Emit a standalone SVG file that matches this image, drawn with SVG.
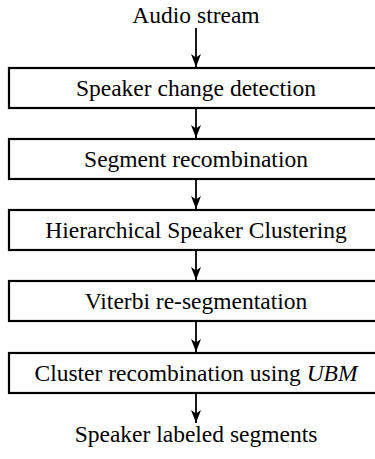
<svg xmlns="http://www.w3.org/2000/svg" width="375" height="459" viewBox="0 0 375 459">
<style>
.box{fill:#fff;stroke:#000;stroke-width:2.2}
.t{font-family:"Liberation Serif","Times New Roman",serif;font-size:23.5px;fill:#000;text-anchor:middle}
.c{stroke:#000;stroke-width:1.8;fill:none;marker-end:url(#ah)}
</style>
<defs>
<marker id="ah" viewBox="0 0 13 10" refX="13" refY="5" markerWidth="13" markerHeight="10" markerUnits="userSpaceOnUse" orient="auto">
<path d="M0,0 L13,5 L0,10 L3.5,5 z" fill="#000"/>
</marker>
</defs>
<rect width="375" height="459" fill="#fff"/>
<g id="connectors">
<line class="c" x1="196" y1="28" x2="196" y2="67"/>
<line class="c" x1="196" y1="109" x2="196" y2="138"/>
<line class="c" x1="196" y1="180" x2="196" y2="209"/>
<line class="c" x1="196" y1="251" x2="196" y2="280"/>
<line class="c" x1="196" y1="322" x2="196" y2="352"/>
<line class="c" x1="196" y1="394" x2="196" y2="423"/>
</g>
<g id="input"><text class="t" x="196" y="23">Audio stream</text></g>
<g id="n1"><rect class="box" x="9" y="68" width="374" height="40"/><text class="t" x="196" y="96">Speaker change detection</text></g>
<g id="n2"><rect class="box" x="9" y="139" width="374" height="40"/><text class="t" x="196" y="167">Segment recombination</text></g>
<g id="n3"><rect class="box" x="9" y="210" width="374" height="40"/><text class="t" x="196" y="238">Hierarchical Speaker Clustering</text></g>
<g id="n4"><rect class="box" x="9" y="281" width="374" height="40"/><text class="t" x="196" y="309">Viterbi re-segmentation</text></g>
<g id="n5"><rect class="box" x="9" y="353" width="374" height="40"/><text class="t" x="196" y="381">Cluster recombination using <tspan font-style="italic">UBM</tspan></text></g>
<g id="output"><text class="t" x="196" y="442">Speaker labeled segments</text></g>
</svg>
